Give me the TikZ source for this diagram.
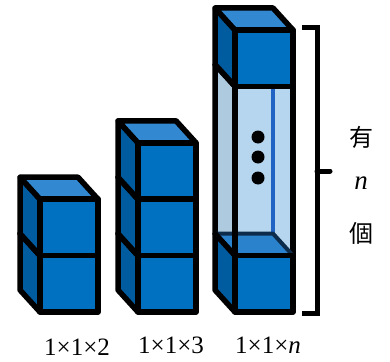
\documentclass[tikz,border=0pt]{standalone}
\usepackage{fontspec}
\setmainfont{Liberation Serif}
\newfontfamily\cjk{Noto Sans CJK TC}

\definecolor{cubefront}{HTML}{0070C0}
\definecolor{cubetop}{HTML}{3289D2}
\definecolor{cubeleft}{HTML}{005C9F}
\definecolor{glassfront}{HTML}{B6D5EF}
\definecolor{glassleft}{HTML}{AECADF}
\definecolor{glassedge}{HTML}{2163C2}
\definecolor{seenedge}{HTML}{0D2C4C}
\definecolor{seentop}{HTML}{2A82CC}

\tikzset{
  cubeline/.style={line width=5.5pt, line join=round},
  bracketline/.style={line width=5pt, line cap=round},
  size label/.style={font=\fontsize{25}{25}\selectfont},
  side label/.style={font=\fontsize{27}{27}\selectfont},
  cjk label/.style={font=\cjk\fontsize{24}{24}\selectfont},
}

% one unit cube, front bottom-left corner at (#1,#2)
\newcommand\blockcube[2]{%
  \filldraw[cubeline, fill=cubeleft] (#1,#2) -- ++(-20,-22) -- ++(0,-56.4) -- ++(20,22) -- cycle;
  \filldraw[cubeline, fill=cubetop] (#1,#2-56.4) -- ++(-20,-22) -- ++(58,0) -- ++(20,22) -- cycle;
  \filldraw[cubeline, fill=cubefront] (#1,#2) rectangle ++(58,-56.4);
}

\begin{document}
\begin{tikzpicture}[x=1pt, y=-1pt]
  \useasboundingbox (0,0) rectangle (390,361);

  % 1x1x2
  \blockcube{40}{312}
  \blockcube{40}{255.6}

  % 1x1x3
  \blockcube{138}{312}
  \blockcube{138}{255.6}
  \blockcube{138}{199.2}

  % 1x1xn: see-through column between two cubes
  \filldraw[cubeline, fill=glassleft] (235,255.6) -- ++(-20,-22) -- ++(0,-169.2) -- ++(20,22) -- cycle;
  \filldraw[cubeline, fill=glassfront] (235,255.6) rectangle ++(58,-169.2);
  \draw[line width=4pt, glassedge] (273,233.6) -- (273,64.4);
  \filldraw[line width=4pt, line join=round, draw=seenedge, fill=seentop]
    (235,255.6) -- ++(-20,-22) -- ++(58,0) -- ++(20,22) -- cycle;
  \draw[cubeline] (235,255.6) -- (235,86.4);
  \filldraw[cubeline, fill=cubeleft] (235,312) -- ++(-20,-22) -- ++(0,-56.4) -- ++(20,22) -- cycle;
  \filldraw[cubeline, fill=cubefront] (235,312) rectangle ++(58,-56.4);
  \blockcube{235}{86.4}

  \fill (258,137) circle (6.5);
  \fill (258,157) circle (6.5);
  \fill (258,178) circle (6.5);

  % brace on the right
  \coordinate (btop) at (317,28);
  \coordinate (bbot) at (317,313);
  \coordinate (bmid) at (317,171);
  \draw[line width=5pt, line join=miter] (302,28) -- (btop) -- (bbot) -- (302,313);
  \draw[bracketline] (bmid) -- ++(13,0);

  \node[cjk label] (you) at (361,137) {有};
  \node[side label] (count) at (361,183) {\textit{n}};
  \node[cjk label] (ge) at (361,233) {個};

  \node[size label] (twolabel) at (77,347) {1×1×2};
  \node[size label] (threelabel) at (171,345) {1×1×3};
  \node[size label] (nlabel) at (268,345) {1×1×\textit{n}};
\end{tikzpicture}
\end{document}
